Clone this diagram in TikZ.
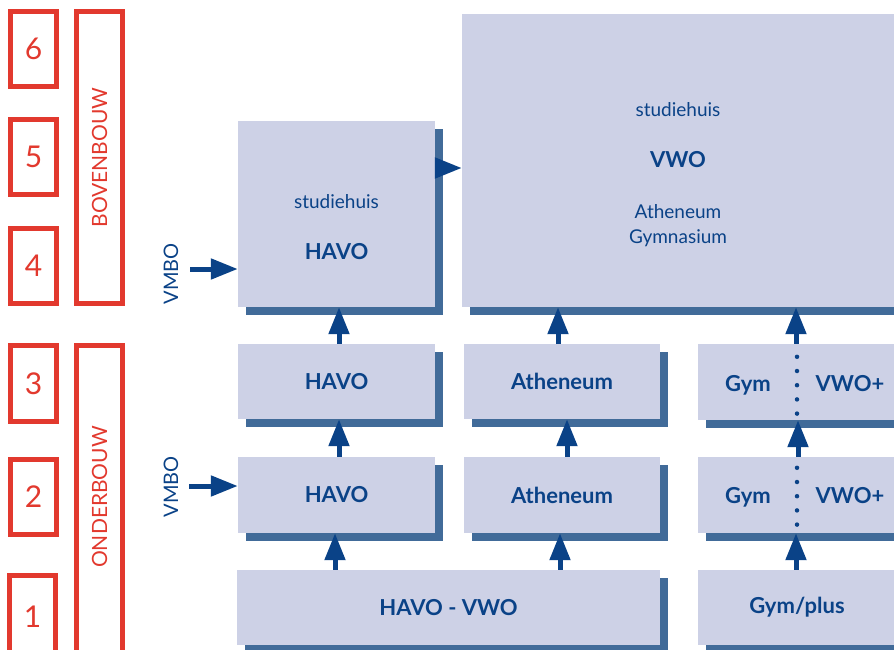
\documentclass[tikz,border=0pt]{standalone}
\usepackage{fontspec}
\setmainfont{Lato}
\usetikzlibrary{arrows.meta,shadows}
\definecolor{redc}{HTML}{E2392E}
\definecolor{boxfill}{HTML}{CDD1E6}
\definecolor{shadeblue}{HTML}{416B99}
\definecolor{darkblue}{HTML}{0A4287}
\tikzset{
  rbox/.style={draw=redc,line width=5pt,minimum width=46pt,inner sep=0pt},
  rnum/.style={text=redc,font=\fontsize{30}{34}\selectfont},
  rlab/.style={text=redc,rotate=90,font=\fontsize{21}{24}\selectfont},
  blk/.style={fill=boxfill,inner sep=0pt,
    drop shadow={shadow xshift=8pt,shadow yshift=-8pt,fill=shadeblue,opacity=1}},
  txt/.style={text=darkblue,font=\fontsize{19}{22}\selectfont},
  txtb/.style={text=darkblue,font=\fontsize{22}{26}\selectfont\bfseries},
  arr/.style={draw=darkblue,line width=5pt,-{Triangle[length=27pt,width=20pt]}},
  dotln/.style={draw=darkblue,line width=4.5pt,line cap=round,dash pattern=on 0pt off 14.2pt}
}
\begin{document}
\begin{tikzpicture}[x=1pt,y=-1pt]
\useasboundingbox (0,0) rectangle (894,650);
% leerjaren
\node[rbox,minimum height=75pt] (n6) at (33.5,49) {};
\node[rbox,minimum height=75pt] (n5) at (33.5,157) {};
\node[rbox,minimum height=75pt] (n4) at (33.5,266) {};
\node[rbox,minimum height=76pt] (n3) at (33.5,383.5) {};
\node[rbox,minimum height=75pt] (n2) at (33.5,497) {};
\node[rbox,minimum height=95pt] (n1) at (32.5,623) {};
\node[rnum] (t6) at (n6) {6};
\node[rnum] (t5) at (n5) {5};
\node[rnum] (t4) at (n4) {4};
\node[rnum] (t3) at (n3) {3};
\node[rnum] (t2) at (n2) {2};
\node[rnum] (t1) at (32.5,617) {1};
\node[rbox,minimum height=292pt] (bov) at (99.5,157.5) {};
\node[rlab] (bovt) at (bov) {BOVENBOUW};
\node[rbox,minimum height=325pt] (ond) at (99.5,508) {};
\node[rlab] (ondt) at (99.5,497) {ONDERBOUW};
% blokken
\node[blk,minimum width=197pt,minimum height=186pt] (shh) at (336.5,214) {};
\node[txt] (shh1) at (336.5,202) {studiehuis};
\node[txtb] (shh2) at (336.5,252) {HAVO};
\node[blk,minimum width=434pt,minimum height=293pt] (vwo) at (679,160.5) {};
\node[txt] (vwo1) at (678,110) {studiehuis};
\node[txtb] (vwo2) at (678,160) {VWO};
\node[txt] (vwo3) at (678,212) {Atheneum};
\node[txt] (vwo4) at (678,238) {Gymnasium};
\node[blk,minimum width=197pt,minimum height=75pt] (h3) at (336.5,381.5) {};
\node[txtb] at (h3) {HAVO};
\node[blk,minimum width=196pt,minimum height=75pt] (a3) at (562,381.5) {};
\node[txtb] at (a3) {Atheneum};
\node[blk,minimum width=198pt,minimum height=76pt] (g3) at (797,382) {};
\node[txtb] (g3l) at (748,385) {Gym};
\node[txtb] (g3r) at (850,384) {VWO+};
\node[blk,minimum width=197pt,minimum height=76pt] (h2) at (336.5,495) {};
\node[txtb] at (h2) {HAVO};
\node[blk,minimum width=196pt,minimum height=76pt] (a2) at (562,495) {};
\node[txtb] at (a2) {Atheneum};
\node[blk,minimum width=198pt,minimum height=76pt] (g2) at (797,495) {};
\node[txtb] (g2l) at (748,497) {Gym};
\node[txtb] (g2r) at (850,496) {VWO+};
\node[blk,minimum width=423pt,minimum height=75pt] (hv1) at (448.5,607.5) {};
\node[txtb] at (hv1) {HAVO - VWO};
\node[blk,minimum width=198pt,minimum height=75pt] (gp1) at (797,607.5) {};
\node[txtb] at (gp1) {Gym/plus};
% scheiding gym / vwo+
\draw[dotln] ([yshift=-13pt]g3.north) -- ([yshift=6pt]g3.south);
\draw[dotln] ([yshift=-11pt]g2.north) -- ([yshift=8pt]g2.south);
% doorstroming
\draw[arr] ([xshift=2.5pt]h3.north) -- ([xshift=2.5pt]h3.north |- shh.south);
\draw[arr] ([xshift=-4pt]a3.north) -- ([xshift=-4pt]a3.north |- vwo.south);
\draw[arr] ([xshift=-1pt]g3.north) -- ([xshift=-1pt]g3.north |- vwo.south);
\draw[arr] ([xshift=2.5pt]h2.north) -- ([xshift=2.5pt]h2.north |- h3.south);
\draw[arr] ([xshift=5pt]a2.north) -- ([xshift=5pt]a2.north |- a3.south);
\draw[arr] ([xshift=1pt]g2.north) -- ([xshift=1pt]g2.north |- g3.south);
\draw[arr] ([xshift=-113.5pt]hv1.north) -- ([xshift=-113.5pt]hv1.north |- h2.south);
\draw[arr] ([xshift=111.5pt]hv1.north) -- ([xshift=111.5pt]hv1.north |- a2.south);
\draw[arr] ([xshift=-1pt]gp1.north) -- ([xshift=-1pt]gp1.north |- g2.south);
\draw[arr] ([yshift=46pt]shh.east) -- ([yshift=46pt]shh.east -| vwo.west);
% vmbo
\coordinate (vm1) at (190,269);
\coordinate (vm2) at (189,486);
\draw[arr] (vm1) -- (vm1 -| shh.west);
\draw[arr] (vm2) -- (vm2 -| h2.west);
\node[txt,rotate=90,font=\fontsize{20}{24}\selectfont] (vmt1) at (171,274) {VMBO};
\node[txt,rotate=90,font=\fontsize{20}{24}\selectfont] (vmt2) at (171,487) {VMBO};
\end{tikzpicture}
\end{document}
